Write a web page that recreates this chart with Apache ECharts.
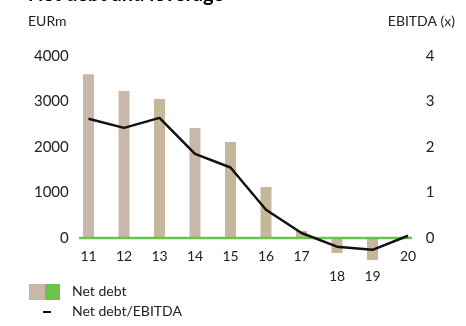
<!DOCTYPE html>
<html>
<head>
<meta charset="utf-8">
<script src="https://cdn.jsdelivr.net/npm/echarts@6/dist/echarts.min.js"></script>
<style>
  html, body { margin: 0; padding: 0; background: #fff; }
  #chart { width: 466px; height: 326px; }
</style>
</head>
<body>
<div id="chart"></div>
<script>
// Fiscal years (two-digit) on the category axis
const years = ['11', '12', '13', '14', '15', '16', '17', '18', '19', '20'];
// Net debt, EUR million
const netDebt = [3600, 3230, 3055, 2420, 2110, 1120, 155, -330, -485, 0];
// Net debt / EBITDA multiple
const leverage = [2.62, 2.42, 2.64, 1.85, 1.55, 0.62, 0.11, -0.19, -0.26, 0.05];
// Shade used for each year's bar
const barShade = ['rose', 'rose', 'sand', 'rose', 'sand', 'sand', 'sand', 'sand', 'sand', 'sand'];

const COLORS = { rose: '#c9b7ab', sand: '#c6b69b', green: '#6cc24a', ink: '#111111', text: '#222222' };
const FONT = 'Lato, "Open Sans", sans-serif';

const chart = echarts.init(document.getElementById('chart'), null, { renderer: 'canvas' });

const option = {
  animation: false,
  backgroundColor: '#ffffff',
  textStyle: { fontFamily: FONT },
  grid: { left: 70.75, right: 40.25, top: 56, bottom: 42.5, containLabel: false, outerBoundsMode: 'none' },
  xAxis: {
    type: 'category',
    data: years,
    boundaryGap: true,
    position: 'bottom',
    offset: 0,
    axisLine: { show: false, onZero: false },
    axisTick: { show: false },
    splitLine: { show: false },
    axisLabel: {
      margin: 8,
      color: COLORS.text,
      fontSize: 14,
      fontFamily: FONT,
      lineHeight: 20,
      // Years with a net cash position carry their label below the bar
      formatter: (v, i) => (netDebt[i] < 0 ? '\n' + v : v)
    }
  },
  yAxis: [
    {
      type: 'value',
      min: -1000, max: 4000, interval: 1000,
      axisLine: { show: false }, axisTick: { show: false }, splitLine: { show: false },
      axisLabel: {
        margin: 2, color: COLORS.text, fontSize: 15, fontFamily: FONT,
        formatter: v => (v < 0 ? '' : String(v))
      }
    },
    {
      type: 'value',
      min: -1, max: 4, interval: 1,
      axisLine: { show: false }, axisTick: { show: false }, splitLine: { show: false },
      axisLabel: {
        margin: 0, color: COLORS.text, fontSize: 15, fontFamily: FONT,
        formatter: v => (v < 0 ? '' : String(v))
      }
    }
  ],
  series: [
    {
      name: 'Net debt',
      type: 'bar',
      yAxisIndex: 0,
      barWidth: 11,
      data: netDebt.map((v, i) => ({ value: v, itemStyle: { color: COLORS[barShade[i]] } })),
      z: 2
    },
    {
      name: 'Net debt/EBITDA',
      type: 'line',
      yAxisIndex: 1,
      data: leverage,
      showSymbol: false,
      symbol: 'none',
      lineStyle: { color: COLORS.ink, width: 2.5 },
      z: 4
    }
  ],
  graphic: [
    {
      type: 'text', left: 28, top: -15,
      style: { text: 'Net debt and leverage', font: 'bold 20px ' + FONT, fill: '#000' }
    },
    {
      type: 'text', left: 28, top: 14,
      style: { text: 'EURm', font: '14px ' + FONT, fill: COLORS.text }
    },
    {
      type: 'text', right: 11, top: 14,
      style: { text: 'EBITDA (x)', font: '14px ' + FONT, fill: COLORS.text }
    },
    // legend: net debt swatch (two tones)
    { type: 'rect', shape: { x: 29, y: 284, width: 16, height: 16 }, style: { fill: COLORS.rose } },
    { type: 'rect', shape: { x: 45, y: 284, width: 15, height: 16 }, style: { fill: COLORS.green } },
    {
      type: 'text', left: 72, top: 284,
      style: { text: 'Net debt', font: '14px ' + FONT, fill: COLORS.text }
    },
    // legend: leverage line sample
    { type: 'line', shape: { x1: 43, y1: 312, x2: 51, y2: 312 }, style: { stroke: COLORS.ink, lineWidth: 2 } },
    {
      type: 'text', left: 72, top: 304,
      style: { text: 'Net debt/EBITDA', font: '14px ' + FONT, fill: COLORS.text }
    }
  ]
};

chart.setOption(option);

// Lift the category axis onto the zero line and draw the green baseline there
const zeroY = chart.convertToPixel({ yAxisIndex: 0 }, 0);
const floorY = chart.convertToPixel({ yAxisIndex: 0 }, option.yAxis[0].min);
chart.setOption({
  xAxis: { offset: zeroY - floorY },
  graphic: option.graphic.concat([
    {
      type: 'line', z: 3,
      shape: { x1: 79, y1: zeroY, x2: 412, y2: zeroY },
      style: { stroke: COLORS.green, lineWidth: 2.5 }
    }
  ])
});
</script>
</body>
</html>
